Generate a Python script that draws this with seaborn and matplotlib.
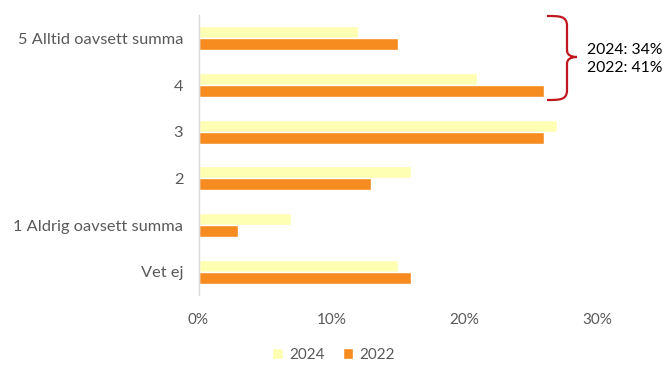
import pandas as pd
import seaborn as sns
import matplotlib.pyplot as plt
from matplotlib.path import Path
from matplotlib.patches import PathPatch, Patch
from matplotlib.transforms import Affine2D

# Données (en %)
categories = ["5 Alltid oavsett summa", "4", "3", "2", "1 Aldrig oavsett summa", "Vet ej"]
years = ["2024", "2022"]
values_2024 = [12, 21, 27, 16, 7, 15]
values_2022 = [15, 26, 26, 13, 3, 16]
x_ticks = [0, 10, 20, 30]
x_tick_labels = ["0%", "10%", "20%", "30%"]
brace_text = "2024: 34%\n2022: 41%"

colors = {"2024": "#FFFFB3", "2022": "#F68B1F"}
text_col = "#595959"

df = pd.DataFrame({
    "category": categories * 2,
    "year": ["2024"] * len(categories) + ["2022"] * len(categories),
    "value": values_2024 + values_2022,
})

sns.set_style("white")
plt.rcParams["font.family"] = ["Lato", "DejaVu Sans"]

fig = plt.figure(figsize=(6.67, 3.71), dpi=100)
ax = fig.add_axes([198.5 / 667, 1 - 295 / 371, (597 - 198.5) / 667, (295 - 15) / 371])

sns.barplot(data=df, x="value", y="category", hue="year", hue_order=years,
            palette=colors, orient="h", width=0.52, ax=ax, legend=False,
            saturation=1)

ax.set_xlim(0, 30)
ax.set_ylim(len(categories) - 0.5, -0.5)
ax.set_xticks(x_ticks)
ax.set_xticklabels(x_tick_labels, fontsize=11, color=text_col)
ax.tick_params(axis="y", labelsize=11.8, labelcolor=text_col, length=0, pad=11)
ax.tick_params(axis="x", length=0, pad=13)
ax.set_xlabel("")
ax.set_ylabel("")
for s in ["top", "right", "bottom"]:
    ax.spines[s].set_visible(False)
ax.spines["left"].set_color("#D9D9D9")
ax.spines["left"].set_linewidth(1)

# Accolade (en pixels de l'image)
px = Affine2D().scale(1 / 667, -1 / 371).translate(0, 1) + fig.transFigure
verts = [
    (547, 16), (560, 16), (567, 16), (567, 26),
    (567, 50),
    (567, 55), (571, 57), (577, 57),
    (571, 57), (567, 59), (567, 64),
    (567, 90),
    (567, 100), (560, 100), (547, 100),
]
codes = [Path.MOVETO, Path.CURVE4, Path.CURVE4, Path.CURVE4,
         Path.LINETO,
         Path.CURVE4, Path.CURVE4, Path.CURVE4,
         Path.CURVE4, Path.CURVE4, Path.CURVE4,
         Path.LINETO,
         Path.CURVE4, Path.CURVE4, Path.CURVE4]
fig.add_artist(PathPatch(Path(verts, codes), transform=px, fill=False,
                         edgecolor="#C0161E", linewidth=1.6))
fig.text(587 / 667, 1 - 59 / 371, brace_text, ha="left", va="center",
         fontsize=11.3, color="black", linespacing=1.45)

handles = [Patch(facecolor=colors[y], label=y) for y in years]
fig.legend(handles=handles, loc="center", bbox_to_anchor=(0.5, 1 - 355 / 371),
           ncol=2, frameon=False, fontsize=11, handlelength=0.7,
           handleheight=0.7, handletextpad=0.4, columnspacing=1.2,
           labelcolor=text_col)

fig.savefig("out.png", dpi=100)
